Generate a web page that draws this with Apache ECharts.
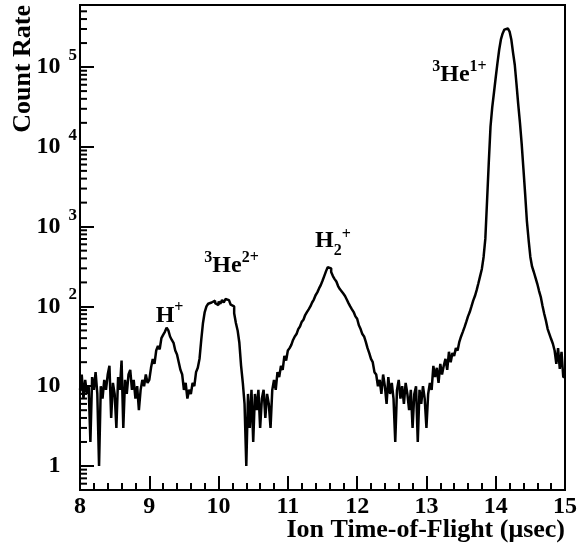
<!DOCTYPE html>
<html><head><meta charset="utf-8">
<script src="https://cdn.jsdelivr.net/npm/echarts@6/dist/echarts.min.js"></script>
<style>html,body{margin:0;padding:0;background:#fff}#c{width:580px;height:552px}</style>
</head><body><div id="c"></div>
<script>
// Histogram: bins of 0.025 µs starting at 8.0 µs
const binStart = 8.0;
const binWidth = 0.025;
const counts8 = [9,14,7,12,8,10,2,13,9,15,8,1,10,7,12,9,14,18,4,11,8,3,13,9,21,3,12,8,14,16,9,12,7,10,5,9,12,10,14,11];
const counts9 = [12,17,22,19,28,32,29,40,44,48,54,50,42,38,35,28,25,20,16,14,9,11,7,9,8,11,10,15,17,22,38,62,85,100,108,112,106,118,110,104];
const counts10 = [115,108,120,112,124,120,114,105,100,82,62,50,35,18,11,6,1,8,3,9,2,8,5,9,3,7,9,4,8,6,3,9,12,9,15,13,18,16,24,21];
const counts11 = [28,30,33,38,42,45,52,56,64,68,78,85,92,100,112,122,138,150,168,185,210,240,275,310,300,270,240,220,205,180,165,155,145,135,122,110,100,92,85,75];
const counts12 = [70,58,52,45,42,36,30,26,22,20,15,14,10,12,8,14,10,6,13,8,11,7,2,9,12,7,10,6,11,8,5,9,3,8,10,2,9,6,10,7];
const counts13 = [3,8,11,9,18,13,17,11,19,14,18,22,16,27,20,26,24,30,28,36,42,48,55,64,75,85,100,118,135,160,195,240,295,417,702,2100,6400,18000,31500,48000];
const counts14 = [74000,112000,165000,222000,264000,295000,305000,305000,279000,222000,152000,107000,61000,34000,20000,10800,5300,2560,1170,680,417,315,270,228,192,157,132,102,81,66,52,45,39,34,28,19,30,16.5,27,13];

const xMin = 8, xMax = 15;
const yMin = 0.5, yMax = 6e5;
const yMajor = [1, 10, 100, 1000, 10000, 100000];
const yMinor = [0.6,0.7,0.8,0.9, 2,3,4,5,6,7,8,9, 20,30,40,50,60,70,80,90,
  200,300,400,500,600,700,800,900, 2e3,3e3,4e3,5e3,6e3,7e3,8e3,9e3,
  2e4,3e4,4e4,5e4,6e4,7e4,8e4,9e4, 2e5,3e5,4e5,5e5];

const annoX = [9.293, 10.187, 11.651, 13.477];
const annoY = [81, 342, 672, 85000];
const annoText = ['{m|H}{sp|+}', '{sp|3}{m|He}{sp|2+}', '{n|H}{sb|2}{sp2|+}', '{sp|3}{m|He}{sp|1+}'];

const xTitle = 'Ion Time-of-Flight (\u03bcsec)';
const yTitle = 'Count Rate';

const F = '"Liberation Serif", "Times New Roman", serif';

const counts = [].concat(counts8, counts9, counts10, counts11, counts12, counts13, counts14);
const histData = counts.map((v, i) => [+(binStart + i * binWidth).toFixed(4), v]);
histData.push([xMax, counts[counts.length - 1]]);

const tok = (size, extra) => Object.assign({fontFamily: F, fontWeight: 'bold', fontSize: size, color: '#000', textBorderWidth: 0, textShadowBlur: 0}, extra || {});

const chart = echarts.init(document.getElementById('c'), null, {renderer: 'canvas'});
chart.setOption({
  animation: false,
  backgroundColor: '#fff',
  grid: {left: 80, right: 15, top: 5, bottom: 62, containLabel: false, outerBoundsMode: 'none',
    show: true, borderColor: '#000', borderWidth: 2, backgroundColor: 'transparent'},
  xAxis: {
    type: 'value', min: xMin, max: xMax, interval: 1,
    axisLine: {show: true, onZero: false, lineStyle: {color: '#000', width: 2}},
    axisTick: {show: true, inside: true, length: 14, lineStyle: {color: '#000', width: 2}},
    minorTick: {show: true, splitNumber: 5, length: 7, lineStyle: {color: '#000', width: 2}},
    splitLine: {show: false},
    axisLabel: {color: '#000', fontFamily: F, fontWeight: 'bold', fontSize: 24, margin: 5}
  },
  yAxis: {
    type: 'log', logBase: 10, min: yMin, max: yMax,
    axisLine: {show: true, onZero: false, lineStyle: {color: '#000', width: 2}},
    axisTick: {show: true, inside: true, length: 14, lineStyle: {color: '#000', width: 2}},
    minorTick: {show: false},
    splitLine: {show: false},
    axisLabel: {
      margin: 3,
      formatter: function (v) {
        const e = Math.round(Math.log10(v));
        const p = Math.pow(10, e);
        if (Math.abs(v - p) > 1e-6 * p || yMajor.indexOf(p) < 0) return '';
        if (e === 0) return '{b|1}{s| }';
        if (e === 1) return '{b|10}{s| }';
        return '{b|10}{e|' + e + '}';
      },
      rich: {
        b: tok(24, {padding: [8, 0, 8, 0]}),
        e: tok(17, {verticalAlign: 'top', padding: [0, 0, 0, 8]}),
        s: tok(17, {width: 16.5})
      }
    }
  },
  graphic: [{
    type: 'text', x: 23.5, y: 5, rotation: Math.PI / 2,
    style: {text: yTitle, font: 'bold 26px ' + F, fill: '#000', align: 'right', verticalAlign: 'middle', textAlign: 'right', textVerticalAlign: 'middle'}
  }, {
    type: 'text', x: 565, y: 530,
    style: {text: xTitle, font: 'bold 26px ' + F, fill: '#000', align: 'right', verticalAlign: 'middle', textAlign: 'right', textVerticalAlign: 'middle'}
  }],
  series: [
    {
      type: 'line', step: 'end', data: histData, symbol: 'none', silent: true,
      lineStyle: {color: '#000', width: 2.5}, z: 3
    },
    {
      type: 'custom', silent: true, z: 4,
      data: yMinor.map(v => [xMin, v]),
      encode: {x: 0, y: 1},
      renderItem: function (params, api) {
        const p = api.coord([api.value(0), api.value(1)]);
        return {type: 'line', shape: {x1: p[0], y1: p[1], x2: p[0] + 7, y2: p[1]}, style: {stroke: '#000', lineWidth: 2}};
      }
    },
    {
      type: 'scatter', silent: true, symbolSize: 0, z: 5,
      itemStyle: {color: '#000', opacity: 0},
      data: annoX.map((x, i) => ({value: [x, annoY[i]], label: {formatter: annoText[i]}})),
      label: {
        show: true, position: 'inside', align: 'center', verticalAlign: 'middle',
        color: '#000', textBorderWidth: 0, opacity: 1,
        rich: {
          m: tok(24, {padding: [4, 0, 0, 0]}),
          n: tok(24, {padding: [6, 0, 6, 0]}),
          sp: tok(16, {verticalAlign: 'top'}),
          sp2: tok(16, {verticalAlign: 'top', padding: [4, 0, 0, 0]}),
          sb: tok(16, {verticalAlign: 'bottom'})
        }
      }
    }
  ]
});
</script>
</body></html>
